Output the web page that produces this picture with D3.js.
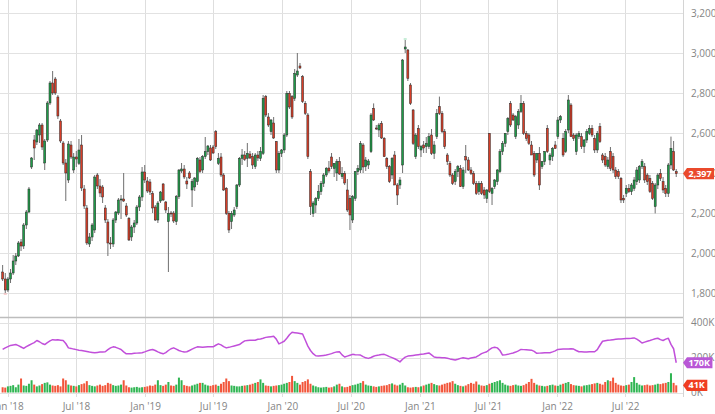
<!DOCTYPE html>
<html><head><meta charset="utf-8">
<script src="https://cdn.jsdelivr.net/npm/d3@7"></script>
<style>
body{margin:0;background:#fff}
svg{display:block}
</style>
</head><body>
<svg id="c" width="715" height="414"></svg>
<script>
// ---------- DATA (weekly bars starting week of 2017-12-18) ----------
const firstWeek = "2017-12-18";
const open = [
1905,1870,1815,1870,1900,1960,1985,2055,2035,2140,
2205,2430,2565,2555,2590,2640,2450,2565,2750,2850,
2870,2780,2660,2550,2450,2365,2540,2415,2480,2448,
2540,2320,2225,2045,2080,2115,2390,2335,2330,2225,
2155,2050,2045,2165,2200,2265,2270,2235,2173,2080,
2130,2150,2230,2280,2405,2360,2355,2298,2230,2165,
2260,2345,2255,2157,2200,2200,2157,2282,2410,2420,
2360,2400,2315,2330,2357,2465,2415,2482,2507,2525,
2530,2607,2448,2480,2390,2323,2198,2157,2190,2232,
2340,2473,2490,2473,2495,2482,2432,2490,2473,2498,
2782,2680,2607,2650,2557,2415,2498,2515,2590,2798,
2782,2773,2890,2935,2882,2748,2690,2407,2198,2240,
2272,2307,2348,2390,2425,2480,2423,2400,2457,2382,
2398,2315,2273,2165,2273,2407,2415,2540,2432,2440,
2507,2723,2625,2615,2648,2573,2473,2432,2390,2490,
2340,2340,2440,3020,3015,2840,2715,2482,2623,2515,
2540,2532,2532,2590,2498,2582,2732,2698,2607,2490,
2448,2390,2357,2407,2423,2332,2482,2465,2415,2398,
2348,2307,2348,2315,2273,2598,2298,2332,2357,2407,
2507,2548,2607,2748,2690,2582,2640,2707,2748,2598,
2590,2540,2498,2465,2498,2432,2457,2623,2465,2482,
2540,2582,2665,2573,2507,2615,2740,2590,2507,2582,
2582,2532,2565,2598,2623,2573,2515,2632,2490,2482,
2432,2507,2482,2415,2407,2373,2273,2298,2323,2307,
2323,2357,2365,2432,2432,2390,2373,2348,2232,2340,
2398,2357,2323,2298,2440,2507,2407];
const high = [
1940,1900,1880,1920,1990,2000,2060,2070,2150,2215,
2330,2480,2590,2620,2650,2650,2570,2760,2860,2910,
2880,2790,2670,2560,2470,2560,2560,2500,2510,2570,
2590,2340,2240,2100,2150,2390,2400,2370,2340,2240,
2170,2080,2175,2210,2275,2290,2400,2250,2180,2140,
2165,2240,2290,2430,2440,2380,2370,2310,2240,2260,
2310,2350,2260,2230,2210,2210,2290,2420,2450,2440,
2380,2410,2370,2380,2480,2480,2490,2580,2540,2540,
2540,2615,2500,2500,2400,2330,2210,2210,2230,2345,
2480,2520,2510,2550,2510,2500,2500,2510,2530,2790,
2790,2700,2670,2680,2560,2510,2520,2600,2810,2810,
2790,2920,3000,2950,2890,2760,2700,2420,2260,2280,
2340,2360,2400,2430,2460,2500,2450,2470,2480,2430,
2410,2370,2290,2290,2410,2440,2560,2550,2480,2470,
2700,2748,2640,2650,2660,2580,2480,2440,2480,2510,
2350,2380,2970,3065,3020,2850,2720,2600,2640,2540,
2560,2580,2600,2620,2560,2720,2782,2710,2620,2500,
2460,2400,2420,2440,2440,2430,2540,2480,2430,2410,
2360,2360,2360,2330,2320,2600,2330,2370,2420,2520,
2560,2600,2680,2760,2700,2690,2720,2790,2760,2610,
2600,2560,2510,2500,2530,2460,2510,2640,2500,2530,
2560,2680,2690,2600,2620,2790,2750,2600,2600,2610,
2600,2570,2620,2640,2640,2590,2610,2650,2500,2500,
2480,2530,2500,2430,2420,2380,2290,2340,2345,2350,
2380,2430,2440,2470,2450,2400,2390,2360,2350,2400,
2420,2380,2340,2450,2582,2560,2420];
const low = [
1860,1800,1805,1850,1890,1940,1980,2010,2020,2120,
2200,2420,2465,2540,2550,2515,2415,2555,2740,2790,
2790,2670,2550,2440,2260,2350,2470,2400,2430,2440,
2310,2220,2040,2030,2060,2100,2320,2280,2250,2150,
1985,2020,2030,2150,2190,2170,2255,2180,2060,2060,
2100,2140,2210,2260,2350,2300,2290,2200,2160,2150,
2250,2260,2200,1905,2180,2150,2140,2270,2400,2370,
2320,2370,2230,2310,2340,2400,2400,2470,2490,2460,
2495,2520,2440,2380,2310,2190,2100,2120,2180,2220,
2330,2440,2460,2430,2470,2420,2420,2460,2460,2490,
2680,2630,2590,2570,2400,2400,2480,2500,2580,2720,
2670,2760,2880,2920,2750,2690,2470,2190,2180,2200,
2260,2290,2330,2380,2400,2420,2380,2360,2390,2370,
2340,2205,2115,2150,2260,2390,2400,2400,2410,2420,
2500,2660,2615,2580,2570,2480,2420,2350,2370,2340,
2240,2320,2400,3000,2860,2740,2540,2470,2520,2480,
2500,2500,2520,2490,2470,2570,2690,2600,2520,2440,
2380,2340,2340,2380,2330,2320,2400,2410,2390,2340,
2290,2290,2290,2270,2250,2300,2240,2320,2340,2400,
2490,2530,2590,2630,2660,2570,2620,2700,2590,2560,
2540,2490,2380,2450,2315,2420,2440,2500,2440,2460,
2520,2570,2650,2480,2500,2600,2580,2560,2490,2570,
2520,2500,2550,2590,2580,2500,2500,2550,2450,2430,
2420,2410,2400,2370,2370,2250,2250,2280,2300,2290,
2310,2340,2350,2420,2350,2340,2300,2265,2198,2320,
2360,2300,2280,2280,2420,2410,2380];
const close = [
1870,1815,1870,1900,1960,1985,2050,2035,2140,2205,
2320,2475,2525,2615,2640,2530,2560,2750,2850,2800,
2800,2685,2560,2450,2400,2545,2480,2480,2470,2515,
2325,2235,2050,2080,2140,2380,2335,2300,2280,2165,
2050,2045,2165,2205,2265,2270,2260,2190,2065,2130,
2150,2230,2280,2405,2365,2310,2305,2225,2165,2250,
2305,2265,2215,2198,2195,2160,2282,2415,2420,2380,
2345,2375,2357,2375,2473,2408,2482,2507,2535,2465,
2500,2532,2473,2390,2315,2198,2115,2198,2215,2340,
2473,2490,2468,2498,2475,2440,2490,2475,2507,2773,
2690,2640,2665,2575,2415,2498,2515,2590,2798,2730,
2680,2898,2910,2925,2757,2698,2482,2232,2250,2272,
2307,2348,2390,2423,2410,2432,2448,2457,2395,2398,
2350,2215,2190,2282,2407,2423,2548,2430,2465,2460,
2690,2665,2620,2640,2575,2482,2432,2357,2473,2340,
2290,2365,2965,3030,2873,2748,2548,2590,2532,2532,
2525,2548,2582,2498,2540,2698,2698,2607,2532,2457,
2390,2348,2407,2432,2332,2415,2465,2415,2398,2348,
2298,2348,2298,2290,2315,2307,2323,2365,2415,2507,
2548,2598,2673,2640,2665,2682,2707,2748,2598,2573,
2548,2490,2390,2498,2340,2457,2507,2507,2490,2523,
2523,2665,2682,2490,2607,2765,2582,2573,2590,2598,
2532,2565,2607,2623,2590,2515,2598,2557,2465,2440,
2465,2423,2415,2382,2382,2265,2265,2323,2307,2340,
2365,2415,2432,2457,2365,2357,2307,2273,2340,2390,
2373,2315,2298,2440,2523,2415,2397];
// volume, thousands of contracts
const volume = [
30,28,35,38,42,30,45,80,40,38,
50,70,45,35,40,48,55,58,45,40,
38,42,35,80,70,45,40,38,35,42,
48,52,65,42,38,35,40,45,38,42,
55,50,42,38,40,45,70,40,30,28,
30,32,28,30,32,35,40,38,45,70,
42,38,45,60,40,38,45,85,70,42,
38,35,40,45,50,55,55,45,40,38,
42,45,38,50,60,80,65,40,38,35,
35,38,40,42,45,50,55,60,75,55,
40,38,35,38,40,42,45,50,55,60,
95,65,55,45,60,65,75,50,40,35,
30,28,30,32,28,30,35,45,50,35,
30,32,38,42,45,50,55,65,45,40,
38,35,32,35,38,40,42,48,52,45,
40,45,55,40,30,28,30,32,30,35,
40,45,50,55,48,42,40,45,50,55,
58,65,50,42,38,35,40,48,55,50,
63,45,40,38,42,50,55,60,65,70,
55,45,40,38,42,45,40,38,42,50,
60,78,55,45,40,38,35,38,42,45,
40,38,45,50,55,60,48,42,40,38,
35,40,42,45,48,52,55,50,45,60,
70,65,85,55,45,40,38,42,45,60,
88,55,45,40,42,45,40,42,45,50,
48,52,55,60,110,55,41];
// open interest, thousands of contracts
const openInterest = [
246,255,262,269,272,274,268,260,252,262,270,278,285,297,290,280,
274,285,295,302,300,301,299,297,280,255,252,248,245,242,240,237,
234,231,229,227,229,231,232,233,245,255,261,258,252,246,232,221,
221,222,224,225,226,227,232,238,243,246,240,232,226,221,228,240,
250,255,248,240,235,231,233,240,248,255,261,260,258,260,262,261,
261,270,278,272,262,255,258,262,266,270,274,285,295,297,298,299,
299,304,306,310,315,317,319,321,305,278,285,293,310,330,344,342,
340,337,334,300,265,240,222,210,208,210,212,214,218,222,228,232,
233,215,203,208,213,218,216,215,214,205,198,195,200,207,212,214,
217,218,212,205,199,193,185,175,190,202,208,210,212,214,216,218,
220,223,226,215,203,200,200,199,199,196,192,189,186,190,195,199,
196,193,197,200,203,212,222,228,233,245,255,259,255,240,214,215,
218,222,226,231,238,246,245,244,243,242,235,224,225,226,227,227,
227,232,238,246,247,248,248,249,250,248,240,233,233,232,232,233,
233,233,245,270,293,296,299,300,302,304,306,306,307,308,309,310,
312,305,295,283,288,293,297,302,307,310,302,297,305,310,275,250,
170];
const priceTicks = [1800,2000,2200,2400,2600,2800,3000,3200];
const lowerTicks = [0,200,400];
const lowerTickLabels = ["0K","200K","400K"];
const timeTickDates = ["2018-01-01","2018-07-01","2019-01-01","2019-07-01","2020-01-01",
  "2020-07-01","2021-01-01","2021-07-01","2022-01-01","2022-07-01"];
const timeTickLabels = ["Jan '18","Jul '18","Jan '19","Jul '19","Jan '20",
  "Jul '20","Jan '21","Jul '21","Jan '22","Jul '22"];

// ---------- CHART ----------
const FONT = "'Open Sans', 'Noto Sans', sans-serif";
const plotRight = 683;
const svg = d3.select("#c");
const parse = d3.utcParse("%Y-%m-%d");
const t0 = parse(firstWeek);
const bars = close.map((c, i) => ({
  date: d3.utcDay.offset(t0, 7 * i),
  o: open[i], h: high[i], l: low[i], c: c,
  v: volume[i], oi: openInterest[i]
}));

const x = d3.scaleUtc()
  .domain([parse("2017-12-11"), parse("2022-12-02")])
  .range([0, plotRight]);
const yP = d3.scaleLinear().domain([1680, 3265]).range([317, 0]);
const yV = d3.scaleLinear().domain([0, 400]).range([392.5, 322.5]);

const crisp = v => Math.round(v) + 0.5;

// grid
const grid = svg.append("g");
grid.selectAll("line.v").data(timeTickDates).join("line")
  .attr("x1", d => crisp(x(parse(d)))).attr("x2", d => crisp(x(parse(d))))
  .attr("y1", 0).attr("y2", 397)
  .attr("stroke", "#dedede").attr("stroke-width", 1);
grid.selectAll("line.hp").data(priceTicks).join("line")
  .attr("x1", 0).attr("x2", plotRight)
  .attr("y1", d => crisp(yP(d))).attr("y2", d => crisp(yP(d)))
  .attr("stroke", "#e2e2e2").attr("stroke-width", 1);
grid.selectAll("line.hv").data(lowerTicks).join("line")
  .attr("x1", 0).attr("x2", plotRight)
  .attr("y1", d => crisp(yV(d))).attr("y2", d => crisp(yV(d)))
  .attr("stroke", "#e2e2e2").attr("stroke-width", 1);
// panel separator and right border
svg.append("line").attr("x1", 0).attr("x2", plotRight)
  .attr("y1", 317.5).attr("y2", 317.5).attr("stroke", "#bdbdbd").attr("stroke-width", 1.5);
svg.append("line").attr("x1", plotRight + 0.5).attr("x2", plotRight + 0.5)
  .attr("y1", 0).attr("y2", 397).attr("stroke", "#d4d4d4");

// volume bars
const GREEN = "#1f9a48", RED = "#d63d27";
const VGREEN = "#2fb552", VRED = "#f2553a";
svg.append("g").selectAll("rect").data(bars).join("rect")
  .attr("x", d => x(d.date) - 1).attr("width", 2)
  .attr("y", d => yV(d.v)).attr("height", d => yV(0) - yV(d.v))
  .attr("fill", d => d.c >= d.o ? VGREEN : VRED);

// open interest line
svg.append("path").datum(bars)
  .attr("fill", "none").attr("stroke", "#c14fda").attr("stroke-width", 1.5)
  .attr("stroke-linejoin", "round")
  .attr("d", d3.line().x(d => x(d.date)).y(d => yV(d.oi)));

// candles
const cg = svg.append("g");
cg.selectAll("line").data(bars).join("line")
  .attr("x1", d => x(d.date)).attr("x2", d => x(d.date))
  .attr("y1", d => yP(d.h)).attr("y2", d => yP(d.l))
  .attr("stroke", "#6f6f6f").attr("stroke-width", 1);
cg.selectAll("rect").data(bars).join("rect")
  .attr("x", d => x(d.date) - 1).attr("width", 2)
  .attr("y", d => yP(Math.max(d.o, d.c)))
  .attr("height", d => Math.max(0.8, Math.abs(yP(d.o) - yP(d.c))))
  .attr("fill", d => d.c >= d.o ? GREEN : RED)
  .attr("stroke", "#2a2a2a").attr("stroke-width", 0.5);

// max-high / min-low markers
const hiBar = bars.reduce((a, b) => b.h > a.h ? b : a);
const loBar = bars.reduce((a, b) => b.l < a.l ? b : a);
svg.append("rect").attr("x", x(hiBar.date) - 1.5).attr("y", yP(hiBar.h) - 1.5)
  .attr("width", 3).attr("height", 1).attr("fill", "#8fdcb0");
svg.append("rect").attr("x", x(loBar.date) - 1.5).attr("y", yP(loBar.l) + 0.5)
  .attr("width", 3).attr("height", 1).attr("fill", "#f5a3a3");

// axes
function styleAxis(g) {
  g.select(".domain").remove();
  g.attr("font-family", FONT).attr("font-size", 10);
  g.selectAll("text").attr("fill", "#858585");
}
svg.append("g").attr("transform", `translate(${plotRight},0)`)
  .call(d3.axisRight(yP).tickValues(priceTicks).tickFormat(d3.format(",")).tickSize(0).tickPadding(8))
  .call(styleAxis);
svg.append("g").attr("transform", `translate(${plotRight},0)`)
  .call(d3.axisRight(yV).tickValues(lowerTicks).tickFormat((d, i) => lowerTickLabels[i]).tickSize(0).tickPadding(8))
  .call(styleAxis);
svg.append("g").attr("transform", "translate(0,403)")
  .call(d3.axisBottom(x).tickValues(timeTickDates.map(parse)).tickFormat((d, i) => timeTickLabels[i]).tickSize(0).tickPadding(0))
  .call(styleAxis);

// last value tags
const last = bars[bars.length - 1];
function tag(yc, label, color) {
  const g = svg.append("g");
  const path = g.append("path").attr("fill", color);
  const t = g.append("text").attr("x", 688.5).attr("y", yc).attr("dy", "0.35em")
    .attr("font-family", FONT).attr("font-size", 9).attr("font-weight", 700)
    .attr("fill", "#fff").text(label);
  const w = t.node().getComputedTextLength();
  const x0 = plotRight, xr = Math.min(714, 688.5 + w + 2.5), h = 5.6;
  path.attr("d", `M${x0},${yc}L${x0 + 4},${yc - h}L${xr},${yc - h}L${xr},${yc + h}L${x0 + 4},${yc + h}Z`);
}
tag(yP(last.c), d3.format(",")(last.c), "#ea4a2c");
tag(yV(last.oi), d3.format("d")(last.oi) + "K", "#b957d6");
tag(yV(last.v), d3.format("d")(last.v) + "K", "#f03e22");
</script>
</body></html>
